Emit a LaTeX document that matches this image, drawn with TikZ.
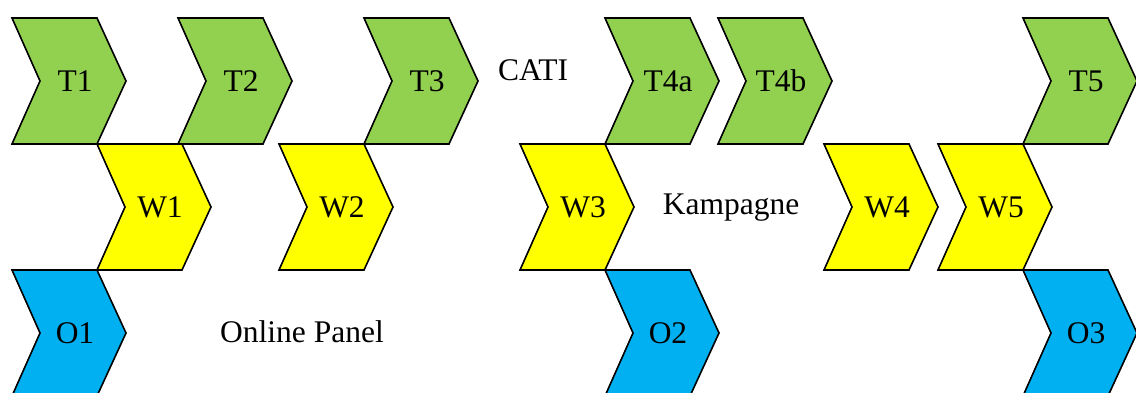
\documentclass[tikz,border=0pt]{standalone}
\usepackage{fontspec}
\setmainfont{Liberation Serif}
\definecolor{cgreen}{HTML}{92D050}
\definecolor{cyellow}{HTML}{FFFF00}
\definecolor{cblue}{HTML}{00B0F0}
\newcommand\mychev[5]{%
  \path[chevshape,fill=#4] (#2,#3) -- ++(85,0) -- ++(29,63) -- ++(-29,63) -- ++(-85,0) -- ++(28,-63) -- cycle;
  \node[lbl] (#1) at (#2+63,#3+73) {#5};}
\begin{document}
\begin{tikzpicture}[x=1pt,y=-1pt,
  chevshape/.style={draw=black,line width=1.6pt,line join=miter},
  lbl/.style={anchor=base,inner sep=0pt,font=\fontsize{31.5}{36}\selectfont},
  free/.style={anchor=base,inner sep=0pt,font=\fontsize{31.5}{36}\selectfont}]
\useasboundingbox (0,0) rectangle (1136,392);
% green row
\mychev{T1}{12}{18}{cgreen}{T1}
\mychev{T2}{178}{18}{cgreen}{T2}
\mychev{T3}{364}{18}{cgreen}{T3}
\mychev{T4a}{605}{18}{cgreen}{T4a}
\mychev{T4b}{718}{18}{cgreen}{T4b}
\mychev{T5}{1023}{18}{cgreen}{T5}
% yellow row
\mychev{W1}{97}{144}{cyellow}{W1}
\mychev{W2}{279}{144}{cyellow}{W2}
\mychev{W3}{520}{144}{cyellow}{W3}
\mychev{W4}{824}{144}{cyellow}{W4}
\mychev{W5}{938}{144}{cyellow}{W5}
% blue row
\mychev{O1}{12}{270}{cblue}{O1}
\mychev{O2}{605}{270}{cblue}{O2}
\mychev{O3}{1023}{270}{cblue}{O3}
% free labels
\node[free] (cati) at (533,80) {CATI};
\node[free] (kampagne) at (731,214) {Kampagne};
\node[free] (online) at (302,342) {Online Panel};
\end{tikzpicture}
\end{document}
